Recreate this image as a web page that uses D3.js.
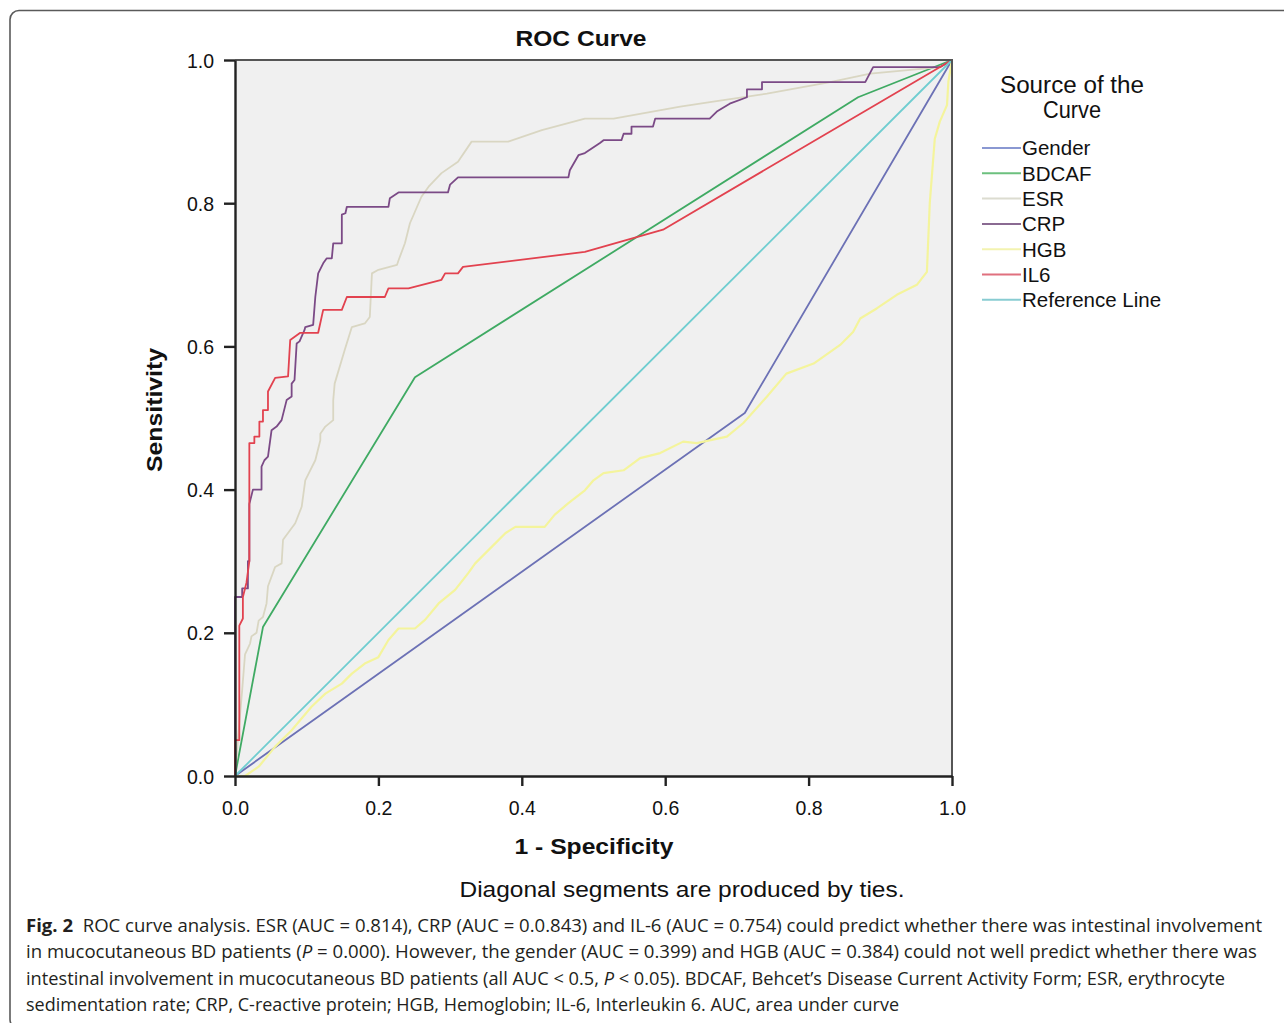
<!DOCTYPE html>
<html>
<head>
<meta charset="utf-8">
<script src="https://cdn.jsdelivr.net/npm/d3@7"></script>
<style>
  body { margin: 0; background: #fff; }
</style>
</head>
<body>
<svg id="svg"></svg>
<script>
// ROC curve points, [1 - specificity, sensitivity]
const gender = [[0, 0], [0.711, 0.507], [1, 1]]
const bdcaf = [[0, 0], [0.039, 0.208], [0.251, 0.557], [0.869, 0.948], [1, 1]]
const esr = [[0, 0], [0.004, 0.05], [0.01, 0.12], [0.014, 0.17], [0.021, 0.185], [0.023, 0.195], [0.03, 0.2], [0.033, 0.217],
  [0.039, 0.222], [0.044, 0.241], [0.046, 0.265], [0.056, 0.292], [0.065, 0.297], [0.067, 0.33], [0.084, 0.353],
  [0.093, 0.376], [0.098, 0.413], [0.112, 0.441], [0.119, 0.469], [0.119, 0.478], [0.126, 0.488], [0.137, 0.497],
  [0.137, 0.525], [0.139, 0.548], [0.153, 0.595], [0.163, 0.627], [0.181, 0.632], [0.188, 0.641], [0.191, 0.702],
  [0.2, 0.707], [0.226, 0.714], [0.228, 0.72], [0.237, 0.744], [0.244, 0.772], [0.26, 0.809], [0.27, 0.823],
  [0.288, 0.842], [0.311, 0.858], [0.33, 0.886], [0.381, 0.886], [0.428, 0.902], [0.488, 0.918], [0.528, 0.918],
  [0.621, 0.935], [0.667, 0.942], [0.742, 0.953], [0.83, 0.969], [0.886, 0.981], [0.983, 0.99], [1, 1]]
const crp = [[0, 0], [0, 0.25], [0.01, 0.25], [0.01, 0.262], [0.018, 0.262], [0.018, 0.3], [0.02, 0.3], [0.02, 0.38],
  [0.025, 0.4], [0.037, 0.4], [0.037, 0.432], [0.041, 0.441], [0.046, 0.446], [0.051, 0.483], [0.058, 0.488],
  [0.065, 0.497], [0.072, 0.525], [0.079, 0.53], [0.079, 0.548], [0.083, 0.553], [0.086, 0.604], [0.09, 0.607],
  [0.097, 0.623], [0.098, 0.627], [0.109, 0.63], [0.112, 0.669], [0.116, 0.702], [0.123, 0.716], [0.128, 0.723],
  [0.135, 0.723], [0.137, 0.744], [0.149, 0.744], [0.149, 0.784], [0.154, 0.786], [0.156, 0.795], [0.214, 0.795],
  [0.216, 0.807], [0.228, 0.815], [0.297, 0.815], [0.3, 0.826], [0.311, 0.836], [0.465, 0.836], [0.467, 0.846],
  [0.479, 0.867], [0.488, 0.87], [0.509, 0.884], [0.514, 0.888], [0.539, 0.888], [0.542, 0.897], [0.553, 0.897],
  [0.553, 0.907], [0.583, 0.907], [0.586, 0.918], [0.662, 0.918], [0.672, 0.928], [0.69, 0.939], [0.714, 0.948],
  [0.714, 0.959], [0.735, 0.959], [0.735, 0.969], [0.879, 0.969], [0.89, 0.99], [0.983, 0.99], [1, 1]]
const hgb = [[0, 0], [0.014, 0], [0.033, 0.013], [0.056, 0.041], [0.079, 0.064], [0.107, 0.097], [0.126, 0.115],
  [0.149, 0.129], [0.163, 0.143], [0.181, 0.157], [0.2, 0.166], [0.214, 0.19], [0.228, 0.206], [0.251, 0.206],
  [0.265, 0.218], [0.284, 0.241], [0.307, 0.26], [0.325, 0.283], [0.335, 0.297], [0.358, 0.32], [0.377, 0.339],
  [0.391, 0.348], [0.432, 0.348], [0.446, 0.365], [0.465, 0.381], [0.488, 0.399], [0.5, 0.413], [0.514, 0.423],
  [0.542, 0.427], [0.565, 0.444], [0.593, 0.451], [0.625, 0.467], [0.644, 0.465], [0.686, 0.474], [0.709, 0.493],
  [0.742, 0.53], [0.769, 0.562], [0.807, 0.576], [0.844, 0.602], [0.862, 0.62], [0.872, 0.639], [0.895, 0.653],
  [0.923, 0.672], [0.951, 0.686], [0.965, 0.704], [0.969, 0.8], [0.976, 0.89], [0.983, 0.914], [0.993, 0.937],
  [0.995, 0.97], [1, 1]]
const il6 = [[0, 0], [0, 0.05], [0.006, 0.05], [0.006, 0.21], [0.011, 0.22], [0.011, 0.25], [0.016, 0.27], [0.02, 0.3],
  [0.02, 0.465], [0.027, 0.465], [0.027, 0.474], [0.034, 0.474], [0.034, 0.495], [0.039, 0.495], [0.039, 0.511],
  [0.046, 0.511], [0.046, 0.537], [0.056, 0.556], [0.074, 0.558], [0.077, 0.609], [0.091, 0.619], [0.116, 0.619],
  [0.123, 0.651], [0.149, 0.651], [0.156, 0.669], [0.209, 0.669], [0.214, 0.681], [0.242, 0.681], [0.288, 0.693],
  [0.293, 0.702], [0.311, 0.702], [0.318, 0.711], [0.488, 0.732], [0.597, 0.763], [1, 1]]
const refLine = [[0, 0], [1, 1]]

const seriesNames = ['Gender', 'BDCAF', 'ESR', 'CRP', 'HGB', 'IL6', 'Reference Line']
const seriesData = [gender, bdcaf, esr, crp, hgb, il6, refLine]
const seriesColors = ['#6c71b5', '#3faa63', '#d9d6c2', '#7b4a86', '#f4f49c', '#e2424f', '#6fcdd0']
const legendColors = ['#8a98d2', '#6cc07e', '#dcdcd0', '#8a6a92', '#f3f3b0', '#e0707e', '#88ccd2']
const ticks = [0, 0.2, 0.4, 0.6, 0.8, 1.0]

const captionLines = [
  [['b', 'Fig. 2'], ['n', '  ROC curve analysis. ESR (AUC = 0.814), CRP (AUC = 0.0.843) and IL-6 (AUC = 0.754) could predict whether there was intestinal involvement']],
  [['n', 'in mucocutaneous BD patients ('], ['i', 'P'], ['n', ' = 0.000). However, the gender (AUC = 0.399) and HGB (AUC = 0.384) could not well predict whether there was']],
  [['n', 'intestinal involvement in mucocutaneous BD patients (all AUC < 0.5, '], ['i', 'P'], ['n', ' < 0.05). BDCAF, Behcet\u2019s Disease Current Activity Form; ESR, erythrocyte']],
  [['n', 'sedimentation rate; CRP, C-reactive protein; HGB, Hemoglobin; IL-6, Interleukin 6. AUC, area under curve']]
]
const captionWidths = [1236, 1231, 1199, 873]

//svg setup
let W = 1284, H = 1023
let svg = d3.select('#svg').attr('width', W).attr('height', H)
  .attr('font-family', '"Liberation Sans", Arial, sans-serif')

// outer figure frame
svg.append('rect')
  .attr('x', 10).attr('y', 10.5)
  .attr('width', 1300).attr('height', 1018)
  .attr('rx', 9)
  .attr('fill', 'none')
  .attr('stroke', '#5a5a5a')
  .attr('stroke-width', 1.6)

let x = d3.scaleLinear().domain([0, 1]).range([235, 952])
let y = d3.scaleLinear().domain([0, 1]).range([776, 60])

// plot background
svg.append('rect')
  .attr('x', x(0)).attr('y', y(1))
  .attr('width', x(1) - x(0)).attr('height', y(0) - y(1))
  .attr('fill', '#f0f0f0')

// curves
let line = d3.line().x(d => x(d[0])).y(d => y(d[1]))
svg.append('g')
  .selectAll('path')
  .data(seriesData)
  .join('path')
  .attr('d', line)
  .attr('fill', 'none')
  .attr('stroke', (d, i) => seriesColors[i])
  .attr('stroke-width', (d, i) => i == 4 ? 2.2 : 1.8)
  .attr('stroke-linejoin', 'round')

// top / right frame
svg.append('path')
  .attr('d', `M${x(0)},${y(1)}H${x(1)}V${y(0)}`)
  .attr('fill', 'none')
  .attr('stroke', '#555')
  .attr('stroke-width', 2)

// axes
let xAxis = d3.axisBottom(x).tickValues(ticks).tickFormat(d3.format('.1f')).tickSize(10).tickSizeOuter(0)
let yAxis = d3.axisLeft(y).tickValues(ticks).tickFormat(d3.format('.1f')).tickSize(11).tickSizeOuter(0)

let xGroup = svg.append('g')
  .attr('transform', `translate(0,${y(0)})`)
  .call(xAxis)
let yGroup = svg.append('g')
  .attr('transform', `translate(${x(0)},0)`)
  .call(yAxis)

;[xGroup, yGroup].forEach(g => {
  g.select('.domain').attr('stroke', '#222').attr('stroke-width', 2.4)
  g.selectAll('.tick line').attr('stroke', '#222').attr('stroke-width', 2.4)
  g.selectAll('.tick text')
    .attr('font-family', '"Liberation Sans", Arial, sans-serif')
    .attr('font-size', 19.5)
    .attr('fill', '#111')
})
xGroup.selectAll('.tick text').attr('dy', '0.71em').attr('y', 25)
yGroup.selectAll('.tick text').attr('x', -21).attr('dy', '0.36em')

// titles
svg.append('text')
  .attr('x', 581).attr('y', 46)
  .attr('text-anchor', 'middle')
  .attr('font-size', 22).attr('font-weight', 'bold')
  .attr('textLength', 131).attr('lengthAdjust', 'spacingAndGlyphs')
  .attr('fill', '#111')
  .text('ROC Curve')

svg.append('text')
  .attr('x', 594).attr('y', 854)
  .attr('text-anchor', 'middle')
  .attr('font-size', 22).attr('font-weight', 'bold')
  .attr('textLength', 159).attr('lengthAdjust', 'spacingAndGlyphs')
  .attr('fill', '#111')
  .text('1 - Specificity')

svg.append('text')
  .attr('transform', 'translate(162,410) rotate(-90)')
  .attr('text-anchor', 'middle')
  .attr('font-size', 22).attr('font-weight', 'bold')
  .attr('textLength', 124).attr('lengthAdjust', 'spacingAndGlyphs')
  .attr('fill', '#111')
  .text('Sensitivity')

svg.append('text')
  .attr('x', 682).attr('y', 897)
  .attr('text-anchor', 'middle')
  .attr('font-size', 22)
  .attr('textLength', 445).attr('lengthAdjust', 'spacingAndGlyphs')
  .attr('fill', '#111')
  .text('Diagonal segments are produced by ties.')

// legend
let legend = svg.append('g')
legend.selectAll('.lt')
  .data(['Source of the', 'Curve'])
  .join('text')
  .attr('x', 1072).attr('y', (d, i) => 93 + i * 25)
  .attr('text-anchor', 'middle')
  .attr('font-size', 23)
  .attr('textLength', (d, i) => i == 0 ? 144 : 58).attr('lengthAdjust', 'spacingAndGlyphs')
  .attr('fill', '#111')
  .text(d => d)

let items = legend.selectAll('.item')
  .data(seriesNames)
  .join('g')
  .attr('transform', (d, i) => `translate(0,${148 + i * 25.3})`)
items.append('line')
  .attr('x1', 982).attr('x2', 1021)
  .attr('stroke', (d, i) => legendColors[i])
  .attr('stroke-width', 2)
items.append('text')
  .attr('x', 1022).attr('dy', '0.36em')
  .attr('font-size', 20.5)
  .attr('fill', '#111')
  .text(d => d)

// caption
let cap = svg.append('g')
cap.selectAll('text')
  .data(captionLines)
  .join('text')
  .attr('x', 26)
  .attr('y', (d, i) => 932 + i * 26.3)
  .attr('font-family', '"Open Sans", "Noto Sans", sans-serif')
  .attr('font-size', 17.5)
  .attr('fill', '#231f20')
  .attr('xml:space', 'preserve')
  .attr('textLength', (d, i) => captionWidths[i])
  .attr('lengthAdjust', 'spacingAndGlyphs')
  .each(function (parts) {
    let t = d3.select(this)
    parts.forEach(p => {
      t.append('tspan')
        .attr('font-weight', p[0] == 'b' ? 'bold' : null)
        .attr('font-style', p[0] == 'i' ? 'italic' : null)
        .text(p[1])
    })
  })
</script>
</body>
</html>
